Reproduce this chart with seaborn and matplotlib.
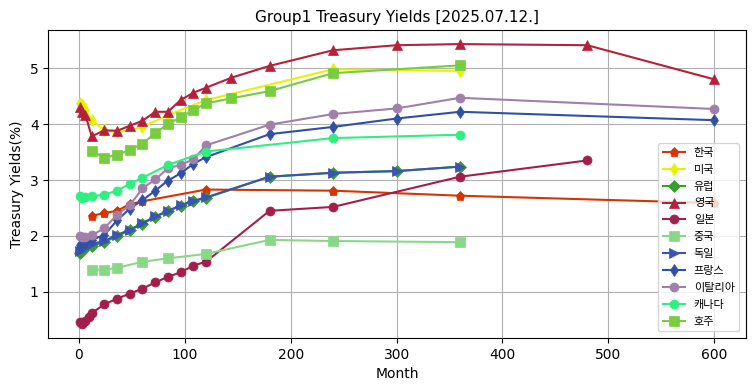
import matplotlib
matplotlib.use("Agg")
import matplotlib.pyplot as plt
import seaborn as sns
from matplotlib.font_manager import FontProperties

# maturities (months) and yields (%) per country
kr_m = [12, 24, 36, 48, 60, 120, 240, 360, 600]
kr_y = [2.36, 2.41, 2.45, 2.57, 2.62, 2.83, 2.81, 2.72, 2.59]

us_m = [1, 2, 3, 4, 6, 12, 24, 36, 60, 84, 120, 240, 360]
us_y = [4.38, 4.36, 4.35, 4.33, 4.25, 4.07, 3.89, 3.85, 3.95, 4.16, 4.43, 4.98, 4.95]

eu_m = [1, 3, 6, 12, 24, 36, 48, 60, 72, 84, 96, 108, 120, 180, 240, 300, 360]
eu_y = [1.70, 1.74, 1.78, 1.83, 1.89, 2.00, 2.10, 2.22, 2.34, 2.44, 2.54, 2.62, 2.68, 3.06, 3.13, 3.16, 3.24]

uk_m = [1, 3, 6, 12, 24, 36, 48, 60, 72, 84, 96, 108, 120, 144, 180, 240, 300, 360, 480, 600]
uk_y = [4.31, 4.22, 4.17, 3.78, 3.89, 3.88, 3.97, 4.06, 4.22, 4.22, 4.43, 4.56, 4.65, 4.83, 5.04, 5.32, 5.41, 5.43, 5.41, 4.80]

jp_m = [1, 3, 6, 9, 12, 24, 36, 48, 60, 72, 84, 96, 108, 120, 180, 240, 360, 480]
jp_y = [0.46, 0.43, 0.48, 0.55, 0.62, 0.78, 0.88, 0.97, 1.06, 1.17, 1.27, 1.35, 1.47, 1.54, 2.45, 2.52, 3.06, 3.35]

cn_m = [12, 24, 36, 60, 84, 120, 180, 240, 360]
cn_y = [1.40, 1.40, 1.43, 1.54, 1.60, 1.68, 1.93, 1.91, 1.89]

de_m = [1, 3, 6, 12, 24, 36, 48, 60, 72, 84, 96, 108, 120, 180, 240, 300, 360]
de_y = [1.73, 1.77, 1.81, 1.86, 1.91, 2.02, 2.11, 2.23, 2.35, 2.45, 2.55, 2.63, 2.69, 3.06, 3.13, 3.16, 3.24]

fr_m = [1, 3, 6, 12, 24, 36, 48, 60, 72, 84, 96, 108, 120, 180, 240, 300, 360, 600]
fr_y = [1.84, 1.88, 1.90, 1.93, 2.02, 2.28, 2.49, 2.64, 2.81, 2.99, 3.12, 3.29, 3.41, 3.82, 3.95, 4.10, 4.22, 4.07]

it_m = [1, 3, 6, 12, 24, 36, 48, 60, 72, 84, 96, 108, 120, 180, 240, 300, 360, 600]
it_y = [2.00, 1.98, 1.99, 2.01, 2.14, 2.38, 2.55, 2.85, 3.01, 3.21, 3.27, 3.37, 3.62, 3.99, 4.18, 4.28, 4.47, 4.27]

ca_m = [1, 3, 6, 12, 24, 36, 48, 60, 84, 120, 240, 360]
ca_y = [2.72, 2.68, 2.69, 2.71, 2.74, 2.81, 2.93, 3.04, 3.27, 3.51, 3.75, 3.81]

au_m = [12, 24, 36, 48, 60, 72, 84, 96, 108, 120, 144, 180, 240, 360]
au_y = [3.52, 3.40, 3.45, 3.54, 3.65, 3.84, 4.00, 4.12, 4.25, 4.37, 4.46, 4.59, 4.91, 5.05]

series = [
    ("한국", kr_m, kr_y, "p", "#d63400"),
    ("미국", us_m, us_y, "d", "#e2f500"),
    ("유럽", eu_m, eu_y, "D", "#3a9e2c"),
    ("영국", uk_m, uk_y, "^", "#b5213b"),
    ("일본", jp_m, jp_y, "o", "#a31f4b"),
    ("중국", cn_m, cn_y, "s", "#88d888"),
    ("독일", de_m, de_y, ">", "#3a55b0"),
    ("프랑스", fr_m, fr_y, "d", "#3050a8"),
    ("이탈리아", it_m, it_y, "o", "#a07faa"),
    ("캐나다", ca_m, ca_y, "o", "#2eef80"),
    ("호주", au_m, au_y, "s", "#77cc3f"),
]

fig, ax = plt.subplots(figsize=(7.55, 3.91), dpi=100)

for name, months, ylds, mk, col in series:
    sns.lineplot(x=months, y=ylds, marker=mk, color=col, label=name,
                 markersize=6.5, markeredgecolor=col, markeredgewidth=0.5,
                 linewidth=1.5, ax=ax)

ax.grid(True, color="#b0b0b0")
ax.set_axisbelow(True)
ax.set_title("Group1 Treasury Yields [2025.07.12.]", fontsize=11)
ax.set_xlabel("Month", fontsize=10)
ax.set_ylabel("Treasury Yields(%)", fontsize=10)

kr_font = FontProperties(family=["Noto Sans CJK KR", "DejaVu Sans"], size=8)
ax.legend(loc="lower right", prop=kr_font, labelspacing=0.62,
          borderaxespad=0.6)

fig.subplots_adjust(left=0.064, right=0.988, top=0.923, bottom=0.136)
plt.savefig("out.png", dpi=100)
